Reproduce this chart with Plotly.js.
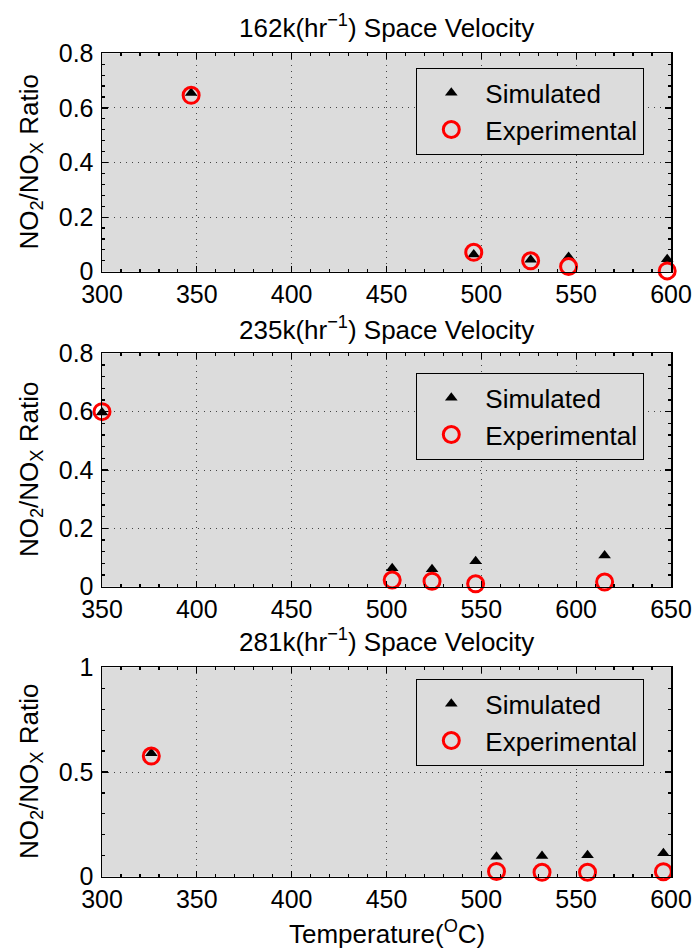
<!DOCTYPE html>
<html>
<head>
<meta charset="utf-8">
<script src="https://cdn.plot.ly/plotly-3.0.1.min.js"></script>
<style>html,body{margin:0;padding:0;background:#fff;}#chart{width:693px;height:950px;}</style>
</head>
<body>
<div id="chart"></div>
<script>
// Panel titles
const panelTitles = ["162k(hr<sup>\u22121</sup>) Space Velocity", "235k(hr<sup>\u22121</sup>) Space Velocity", "281k(hr<sup>\u22121</sup>) Space Velocity"];
const seriesNames = ["Simulated", "Experimental"];

// 162k space velocity
const temp162 = [347, 496, 526, 546, 598];
const sim162 = [0.655, 0.063, 0.044, 0.054, 0.046];
const exp162 = [0.646, 0.071, 0.040, 0.019, 0.003];

// 235k space velocity
const temp235 = [350, 503, 524, 547, 615];
const sim235 = [0.597, 0.063, 0.060, 0.087, 0.107];
const exp235 = [0.600, 0.023, 0.019, 0.010, 0.016];

// 281k space velocity
const temp281 = [326, 508, 532, 556, 596];
const sim281 = [0.589, 0.095, 0.099, 0.103, 0.112];
const exp281 = [0.576, 0.025, 0.021, 0.021, 0.024];

const xRanges = [[300, 600], [350, 650], [300, 600]];
const yRanges = [[0, 0.8], [0, 0.8], [0, 1]];
const yDtick = [0.2, 0.2, 0.5];
const xDtick = 50;

const FONT = "Liberation Sans, Arial, Helvetica, sans-serif";
const BG = "#dcdcdc";
const W = 693, H = 950;
// pixel boxes of the three plot areas [top, bottom]
const boxes = [[53.3, 271.7], [353.3, 586.7], [667.3, 876.7]];
const xDom = [102 / W, 671 / W];
const legendTops = [68, 373, 679];
const titleYs = [26.7, 328, 640];

const datasets = [[temp162, sim162, exp162], [temp235, sim235, exp235], [temp281, sim281, exp281]];
const traces = [];
const layout = {
  width: W, height: H,
  margin: {l: 0, r: 0, t: 0, b: 0},
  paper_bgcolor: "#ffffff",
  plot_bgcolor: BG,
  font: {family: FONT, size: 25, color: "#000"},
  showlegend: true,
  annotations: [],
};

datasets.forEach((d, i) => {
  const sfx = i === 0 ? "" : String(i + 1);
  const legName = i === 0 ? "legend" : "legend" + (i + 1);
  traces.push({
    type: "scatter", mode: "markers", x: d[0], y: d[1], name: seriesNames[0],
    xaxis: "x" + sfx, yaxis: "y" + sfx, legend: legName,
    marker: {symbol: "triangle-up", size: 11, color: "#000", line: {width: 0}},
    cliponaxis: false
  });
  traces.push({
    type: "scatter", mode: "markers", x: d[0], y: d[2], name: seriesNames[1],
    xaxis: "x" + sfx, yaxis: "y" + sfx, legend: legName,
    marker: {symbol: "circle-open", size: 16, color: "#ff0000", line: {width: 3, color: "#ff0000"}},
    cliponaxis: false
  });
  const b = boxes[i];
  const common = {
    showline: true, linecolor: "#000", linewidth: 1.5, mirror: "ticks",
    ticks: "inside", ticklen: 6, tickwidth: 1.2, tickcolor: "#000",
    showgrid: true, gridcolor: "#444", gridwidth: 1, griddash: "1px,5px",
    zeroline: false, tickfont: {size: 25, family: FONT, color: "#000"},
    fixedrange: true
  };
  layout["xaxis" + sfx] = Object.assign({}, common, {
    domain: xDom, anchor: "y" + sfx, range: xRanges[i], dtick: xDtick, tick0: 0,
    minor: {ticks: "inside", ticklen: 3, dtick: 10, tickcolor: "#000", showgrid: false}
  });
  layout["yaxis" + sfx] = Object.assign({}, common, {
    domain: [1 - b[1] / H, 1 - b[0] / H], anchor: "x" + sfx, range: yRanges[i], dtick: yDtick[i], tick0: 0,
    ticklabelstandoff: 2,
    minor: {ticks: "inside", ticklen: 3, dtick: yDtick[i] / 5, tickcolor: "#000", showgrid: false}
  });
  layout[legName] = {
    x: 416 / W, y: 1 - legendTops[i] / H, xanchor: "left", yanchor: "top",
    xref: "paper", yref: "paper",
    bgcolor: BG, bordercolor: "#000", borderwidth: 1.3,
    font: {family: FONT, size: 26, color: "#000"},
    itemwidth: 58, tracegroupgap: 0
  };
  layout.annotations.push({
    text: panelTitles[i], xref: "paper", yref: "paper",
    x: (xDom[0] + xDom[1]) / 2, y: 1 - titleYs[i] / H, xanchor: "center", yanchor: "middle",
    showarrow: false, font: {family: FONT, size: 26, color: "#000"}
  });
  layout.annotations.push({
    text: "NO<sub>2</sub>/NO<sub>X</sub> Ratio", xref: "paper", yref: "paper",
    x: 30 / W, y: 1 - (b[0] + b[1]) / 2 / H, xanchor: "center", yanchor: "middle",
    textangle: -90, showarrow: false, font: {family: FONT, size: 26, color: "#000"}
  });
});
layout.annotations.push({
  text: "Temperature(<sup>O</sup>C)", xref: "paper", yref: "paper",
  x: (xDom[0] + xDom[1]) / 2, y: 1 - 932 / H, xanchor: "center", yanchor: "middle",
  showarrow: false, font: {family: FONT, size: 26, color: "#000"}
});

Plotly.newPlot("chart", traces, layout, {staticPlot: true, displayModeBar: false});
</script>
</body>
</html>
